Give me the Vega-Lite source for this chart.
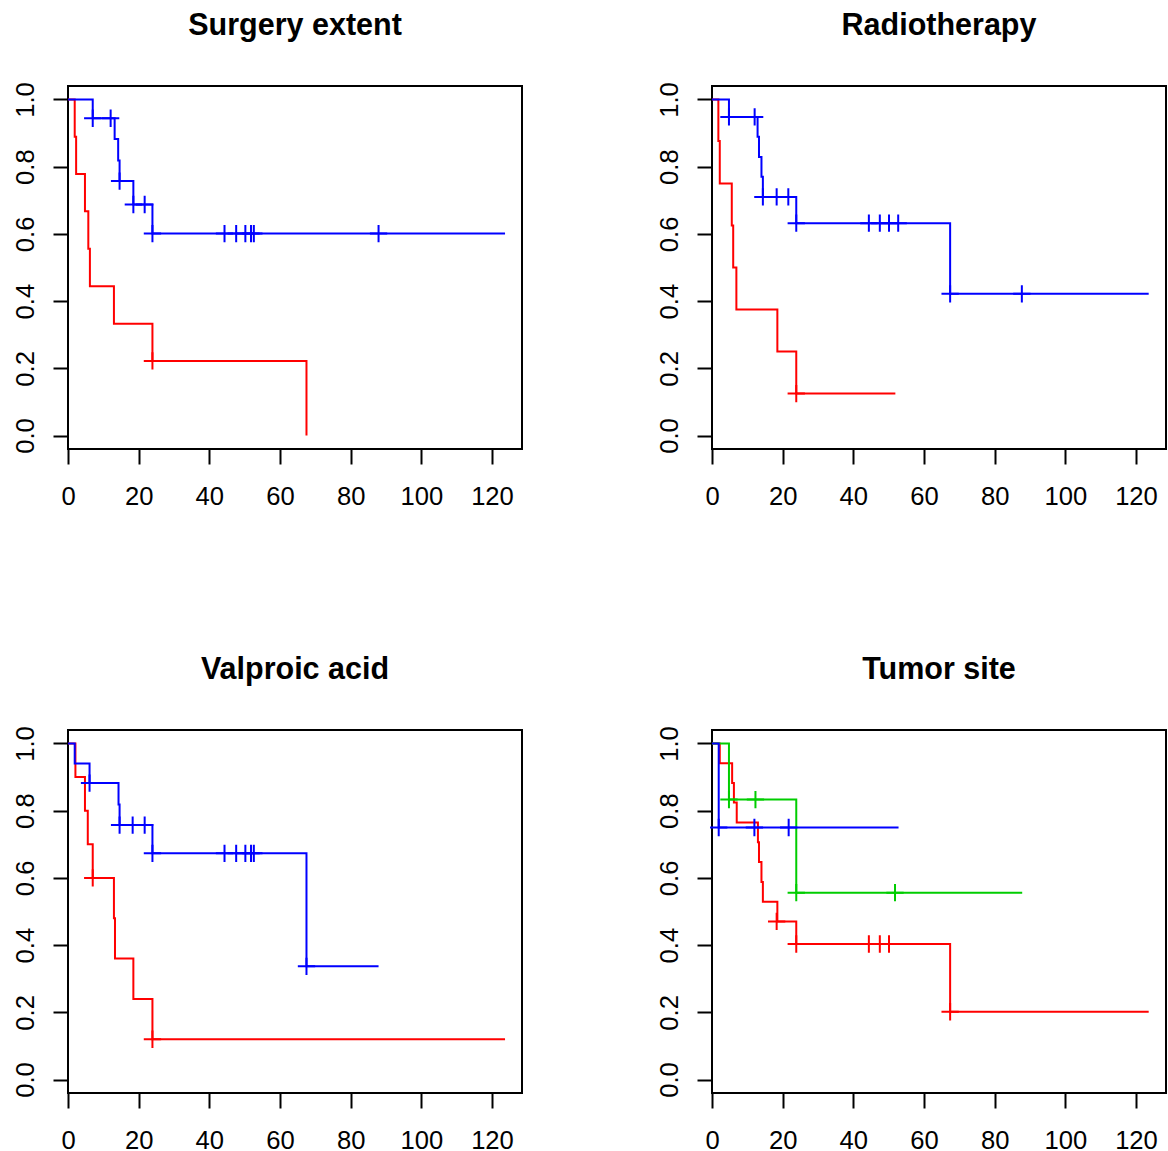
{
  "$schema": "https://vega.github.io/schema/vega-lite/v6.json",
  "background": "white",
  "padding": {"left": 12, "top": 10, "right": 2, "bottom": 2},
  "bounds": "flush",
  "columns": 2,
  "spacing": {"row": 281, "column": 190},
  "config": {
    "view": {"stroke": "black", "strokeWidth": 2},
    "font": "Liberation Sans",
    "axis": {
      "domain": false, "grid": false, "ticks": true, "tickSize": 15, "tickWidth": 2, "tickColor": "black",
      "labelFont": "Liberation Sans", "labelFontSize": 25.6, "labelColor": "black", "labelPadding": 20, "labelFlush": false, "labelOverlap": false, "title": null
    },
    "title": {"font": "Liberation Sans", "fontSize": 30.5, "fontWeight": "bold", "color": "black", "anchor": "middle", "frame": "group", "baseline": "alphabetic", "offset": 40}
  },
  "datasets": {
    "curves": [
      {"p": "Surgery extent", "g": "g1", "t": 0, "s": 1},
      {"p": "Surgery extent", "g": "g1", "t": 1.9, "s": 0.889},
      {"p": "Surgery extent", "g": "g1", "t": 2.3, "s": 0.778},
      {"p": "Surgery extent", "g": "g1", "t": 4.8, "s": 0.667},
      {"p": "Surgery extent", "g": "g1", "t": 5.75, "s": 0.556},
      {"p": "Surgery extent", "g": "g1", "t": 6.2, "s": 0.444},
      {"p": "Surgery extent", "g": "g1", "t": 13.0, "s": 0.333},
      {"p": "Surgery extent", "g": "g1", "t": 23.9, "s": 0.222},
      {"p": "Surgery extent", "g": "g1", "t": 67.5, "s": 0},
      {"p": "Surgery extent", "g": "g3", "t": 0, "s": 1},
      {"p": "Surgery extent", "g": "g3", "t": 7.0, "s": 0.944},
      {"p": "Surgery extent", "g": "g3", "t": 13.2, "s": 0.882},
      {"p": "Surgery extent", "g": "g3", "t": 14.2, "s": 0.818},
      {"p": "Surgery extent", "g": "g3", "t": 14.6, "s": 0.757},
      {"p": "Surgery extent", "g": "g3", "t": 18.5, "s": 0.6875},
      {"p": "Surgery extent", "g": "g3", "t": 23.9, "s": 0.601},
      {"p": "Surgery extent", "g": "g3", "t": 123.7, "s": 0.601},

      {"p": "Radiotherapy", "g": "g1", "t": 0, "s": 1},
      {"p": "Radiotherapy", "g": "g1", "t": 1.8, "s": 0.876},
      {"p": "Radiotherapy", "g": "g1", "t": 2.2, "s": 0.75},
      {"p": "Radiotherapy", "g": "g1", "t": 5.6, "s": 0.625},
      {"p": "Radiotherapy", "g": "g1", "t": 6.0, "s": 0.5},
      {"p": "Radiotherapy", "g": "g1", "t": 6.9, "s": 0.375},
      {"p": "Radiotherapy", "g": "g1", "t": 18.5, "s": 0.25},
      {"p": "Radiotherapy", "g": "g1", "t": 23.85, "s": 0.125},
      {"p": "Radiotherapy", "g": "g1", "t": 51.9, "s": 0.125},
      {"p": "Radiotherapy", "g": "g3", "t": 0, "s": 1},
      {"p": "Radiotherapy", "g": "g3", "t": 4.8, "s": 0.948},
      {"p": "Radiotherapy", "g": "g3", "t": 12.9, "s": 0.889},
      {"p": "Radiotherapy", "g": "g3", "t": 13.3, "s": 0.829},
      {"p": "Radiotherapy", "g": "g3", "t": 14.0, "s": 0.770},
      {"p": "Radiotherapy", "g": "g3", "t": 14.4, "s": 0.710},
      {"p": "Radiotherapy", "g": "g3", "t": 23.85, "s": 0.632},
      {"p": "Radiotherapy", "g": "g3", "t": 67.4, "s": 0.4216},
      {"p": "Radiotherapy", "g": "g3", "t": 123.6, "s": 0.4216},

      {"p": "Valproic acid", "g": "g1", "t": 0, "s": 1},
      {"p": "Valproic acid", "g": "g1", "t": 2.1, "s": 0.9},
      {"p": "Valproic acid", "g": "g1", "t": 4.8, "s": 0.8},
      {"p": "Valproic acid", "g": "g1", "t": 5.6, "s": 0.7},
      {"p": "Valproic acid", "g": "g1", "t": 7.0, "s": 0.6},
      {"p": "Valproic acid", "g": "g1", "t": 13.0, "s": 0.48},
      {"p": "Valproic acid", "g": "g1", "t": 13.3, "s": 0.36},
      {"p": "Valproic acid", "g": "g1", "t": 18.5, "s": 0.24},
      {"p": "Valproic acid", "g": "g1", "t": 23.9, "s": 0.12},
      {"p": "Valproic acid", "g": "g1", "t": 123.7, "s": 0.12},
      {"p": "Valproic acid", "g": "g3", "t": 0, "s": 1},
      {"p": "Valproic acid", "g": "g3", "t": 1.9, "s": 0.9405},
      {"p": "Valproic acid", "g": "g3", "t": 6.1, "s": 0.882},
      {"p": "Valproic acid", "g": "g3", "t": 14.3, "s": 0.818},
      {"p": "Valproic acid", "g": "g3", "t": 14.6, "s": 0.757},
      {"p": "Valproic acid", "g": "g3", "t": 23.9, "s": 0.673},
      {"p": "Valproic acid", "g": "g3", "t": 67.5, "s": 0.337},
      {"p": "Valproic acid", "g": "g3", "t": 87.9, "s": 0.337},

      {"p": "Tumor site", "g": "g1", "t": 0, "s": 1},
      {"p": "Tumor site", "g": "g1", "t": 2.2, "s": 0.941},
      {"p": "Tumor site", "g": "g1", "t": 5.7, "s": 0.882},
      {"p": "Tumor site", "g": "g1", "t": 6.2, "s": 0.824},
      {"p": "Tumor site", "g": "g1", "t": 7.0, "s": 0.765},
      {"p": "Tumor site", "g": "g1", "t": 13.0, "s": 0.706},
      {"p": "Tumor site", "g": "g1", "t": 13.3, "s": 0.647},
      {"p": "Tumor site", "g": "g1", "t": 14.0, "s": 0.588},
      {"p": "Tumor site", "g": "g1", "t": 14.4, "s": 0.529},
      {"p": "Tumor site", "g": "g1", "t": 18.5, "s": 0.4705},
      {"p": "Tumor site", "g": "g1", "t": 23.85, "s": 0.4033},
      {"p": "Tumor site", "g": "g1", "t": 67.4, "s": 0.2017},
      {"p": "Tumor site", "g": "g1", "t": 123.6, "s": 0.2017},
      {"p": "Tumor site", "g": "g2", "t": 0, "s": 1},
      {"p": "Tumor site", "g": "g2", "t": 4.8, "s": 0.833},
      {"p": "Tumor site", "g": "g2", "t": 23.85, "s": 0.556},
      {"p": "Tumor site", "g": "g2", "t": 87.8, "s": 0.556},
      {"p": "Tumor site", "g": "g3", "t": 0, "s": 1},
      {"p": "Tumor site", "g": "g3", "t": 1.9, "s": 0.75},
      {"p": "Tumor site", "g": "g3", "t": 52.8, "s": 0.75}
    ],
    "marks": [
      {"p": "Surgery extent", "g": "g1", "t": 23.9, "s": 0.222},
      {"p": "Surgery extent", "g": "g3", "t": 7.0, "s": 0.944},
      {"p": "Surgery extent", "g": "g3", "t": 12.07, "s": 0.944},
      {"p": "Surgery extent", "g": "g3", "t": 14.6, "s": 0.757},
      {"p": "Surgery extent", "g": "g3", "t": 18.5, "s": 0.6875},
      {"p": "Surgery extent", "g": "g3", "t": 21.7, "s": 0.6875},
      {"p": "Surgery extent", "g": "g3", "t": 23.9, "s": 0.601},
      {"p": "Surgery extent", "g": "g3", "t": 44.3, "s": 0.601},
      {"p": "Surgery extent", "g": "g3", "t": 47.6, "s": 0.601},
      {"p": "Surgery extent", "g": "g3", "t": 50.2, "s": 0.601},
      {"p": "Surgery extent", "g": "g3", "t": 51.8, "s": 0.601},
      {"p": "Surgery extent", "g": "g3", "t": 52.6, "s": 0.601},
      {"p": "Surgery extent", "g": "g3", "t": 87.9, "s": 0.601},

      {"p": "Radiotherapy", "g": "g1", "t": 23.85, "s": 0.125},
      {"p": "Radiotherapy", "g": "g3", "t": 4.8, "s": 0.948},
      {"p": "Radiotherapy", "g": "g3", "t": 12.07, "s": 0.948},
      {"p": "Radiotherapy", "g": "g3", "t": 14.4, "s": 0.710},
      {"p": "Radiotherapy", "g": "g3", "t": 18.3, "s": 0.710},
      {"p": "Radiotherapy", "g": "g3", "t": 21.6, "s": 0.710},
      {"p": "Radiotherapy", "g": "g3", "t": 23.85, "s": 0.632},
      {"p": "Radiotherapy", "g": "g3", "t": 44.4, "s": 0.632},
      {"p": "Radiotherapy", "g": "g3", "t": 47.5, "s": 0.632},
      {"p": "Radiotherapy", "g": "g3", "t": 50.1, "s": 0.632},
      {"p": "Radiotherapy", "g": "g3", "t": 52.7, "s": 0.632},
      {"p": "Radiotherapy", "g": "g3", "t": 67.4, "s": 0.4216},
      {"p": "Radiotherapy", "g": "g3", "t": 87.7, "s": 0.4216},

      {"p": "Valproic acid", "g": "g1", "t": 7.0, "s": 0.6},
      {"p": "Valproic acid", "g": "g1", "t": 23.9, "s": 0.12},
      {"p": "Valproic acid", "g": "g3", "t": 6.1, "s": 0.882},
      {"p": "Valproic acid", "g": "g3", "t": 14.6, "s": 0.757},
      {"p": "Valproic acid", "g": "g3", "t": 18.3, "s": 0.757},
      {"p": "Valproic acid", "g": "g3", "t": 21.7, "s": 0.757},
      {"p": "Valproic acid", "g": "g3", "t": 23.9, "s": 0.673},
      {"p": "Valproic acid", "g": "g3", "t": 44.3, "s": 0.673},
      {"p": "Valproic acid", "g": "g3", "t": 47.6, "s": 0.673},
      {"p": "Valproic acid", "g": "g3", "t": 50.2, "s": 0.673},
      {"p": "Valproic acid", "g": "g3", "t": 51.8, "s": 0.673},
      {"p": "Valproic acid", "g": "g3", "t": 52.6, "s": 0.673},
      {"p": "Valproic acid", "g": "g3", "t": 67.5, "s": 0.337},

      {"p": "Tumor site", "g": "g1", "t": 18.3, "s": 0.4705},
      {"p": "Tumor site", "g": "g1", "t": 23.85, "s": 0.4033},
      {"p": "Tumor site", "g": "g1", "t": 44.4, "s": 0.4033},
      {"p": "Tumor site", "g": "g1", "t": 47.5, "s": 0.4033},
      {"p": "Tumor site", "g": "g1", "t": 50.1, "s": 0.4033},
      {"p": "Tumor site", "g": "g1", "t": 67.4, "s": 0.2017},
      {"p": "Tumor site", "g": "g2", "t": 4.8, "s": 0.833},
      {"p": "Tumor site", "g": "g2", "t": 12.3, "s": 0.833},
      {"p": "Tumor site", "g": "g2", "t": 23.85, "s": 0.556},
      {"p": "Tumor site", "g": "g2", "t": 51.8, "s": 0.556},
      {"p": "Tumor site", "g": "g3", "t": 1.9, "s": 0.75},
      {"p": "Tumor site", "g": "g3", "t": 12.0, "s": 0.75},
      {"p": "Tumor site", "g": "g3", "t": 21.7, "s": 0.75}
    ]
  },
  "concat": [
    {
      "title": "Surgery extent", "width": 454, "height": 363,
      "layer": [
        {"data": {"name": "curves"}, "transform": [{"filter": "datum.p === 'Surgery extent'"}],
         "mark": {"type": "line", "interpolate": "step-after", "strokeWidth": 2},
         "encoding": {
           "x": {"field": "t", "type": "quantitative", "scale": {"domain": [0, 128.5], "nice": false, "zero": false}, "axis": {"values": [0, 20, 40, 60, 80, 100, 120]}},
           "y": {"field": "s", "type": "quantitative", "scale": {"domain": [-0.04, 1.04], "nice": false, "zero": false}, "axis": {"values": [0, 0.2, 0.4, 0.6, 0.8, 1.0], "format": ".1f", "labelAngle": -90, "labelAlign": "center", "labelBaseline": "alphabetic"}},
           "color": {"field": "g", "type": "nominal", "scale": {"domain": ["g1", "g2", "g3"], "range": ["#FF0000", "#00CD00", "#0000FF"]}, "legend": null}
         }},
        {"data": {"name": "marks"}, "transform": [{"filter": "datum.p === 'Surgery extent'"}],
         "mark": {"type": "point", "shape": "M-1,0L1,0M0,-1L0,1", "size": 300, "filled": false, "strokeWidth": 2, "opacity": 1},
         "encoding": {
           "x": {"field": "t", "type": "quantitative"},
           "y": {"field": "s", "type": "quantitative"},
           "color": {"field": "g", "type": "nominal", "scale": {"domain": ["g1", "g2", "g3"], "range": ["#FF0000", "#00CD00", "#0000FF"]}, "legend": null}
         }}
      ]
    },
    {
      "title": "Radiotherapy", "width": 454, "height": 363,
      "layer": [
        {"data": {"name": "curves"}, "transform": [{"filter": "datum.p === 'Radiotherapy'"}],
         "mark": {"type": "line", "interpolate": "step-after", "strokeWidth": 2},
         "encoding": {
           "x": {"field": "t", "type": "quantitative", "scale": {"domain": [0, 128.5], "nice": false, "zero": false}, "axis": {"values": [0, 20, 40, 60, 80, 100, 120]}},
           "y": {"field": "s", "type": "quantitative", "scale": {"domain": [-0.04, 1.04], "nice": false, "zero": false}, "axis": {"values": [0, 0.2, 0.4, 0.6, 0.8, 1.0], "format": ".1f", "labelAngle": -90, "labelAlign": "center", "labelBaseline": "alphabetic"}},
           "color": {"field": "g", "type": "nominal", "scale": {"domain": ["g1", "g2", "g3"], "range": ["#FF0000", "#00CD00", "#0000FF"]}, "legend": null}
         }},
        {"data": {"name": "marks"}, "transform": [{"filter": "datum.p === 'Radiotherapy'"}],
         "mark": {"type": "point", "shape": "M-1,0L1,0M0,-1L0,1", "size": 300, "filled": false, "strokeWidth": 2, "opacity": 1},
         "encoding": {
           "x": {"field": "t", "type": "quantitative"},
           "y": {"field": "s", "type": "quantitative"},
           "color": {"field": "g", "type": "nominal", "scale": {"domain": ["g1", "g2", "g3"], "range": ["#FF0000", "#00CD00", "#0000FF"]}, "legend": null}
         }}
      ]
    },
    {
      "title": "Valproic acid", "width": 454, "height": 363,
      "layer": [
        {"data": {"name": "curves"}, "transform": [{"filter": "datum.p === 'Valproic acid'"}],
         "mark": {"type": "line", "interpolate": "step-after", "strokeWidth": 2},
         "encoding": {
           "x": {"field": "t", "type": "quantitative", "scale": {"domain": [0, 128.5], "nice": false, "zero": false}, "axis": {"values": [0, 20, 40, 60, 80, 100, 120]}},
           "y": {"field": "s", "type": "quantitative", "scale": {"domain": [-0.04, 1.04], "nice": false, "zero": false}, "axis": {"values": [0, 0.2, 0.4, 0.6, 0.8, 1.0], "format": ".1f", "labelAngle": -90, "labelAlign": "center", "labelBaseline": "alphabetic"}},
           "color": {"field": "g", "type": "nominal", "scale": {"domain": ["g1", "g2", "g3"], "range": ["#FF0000", "#00CD00", "#0000FF"]}, "legend": null}
         }},
        {"data": {"name": "marks"}, "transform": [{"filter": "datum.p === 'Valproic acid'"}],
         "mark": {"type": "point", "shape": "M-1,0L1,0M0,-1L0,1", "size": 300, "filled": false, "strokeWidth": 2, "opacity": 1},
         "encoding": {
           "x": {"field": "t", "type": "quantitative"},
           "y": {"field": "s", "type": "quantitative"},
           "color": {"field": "g", "type": "nominal", "scale": {"domain": ["g1", "g2", "g3"], "range": ["#FF0000", "#00CD00", "#0000FF"]}, "legend": null}
         }}
      ]
    },
    {
      "title": "Tumor site", "width": 454, "height": 363,
      "layer": [
        {"data": {"name": "curves"}, "transform": [{"filter": "datum.p === 'Tumor site'"}],
         "mark": {"type": "line", "interpolate": "step-after", "strokeWidth": 2},
         "encoding": {
           "x": {"field": "t", "type": "quantitative", "scale": {"domain": [0, 128.5], "nice": false, "zero": false}, "axis": {"values": [0, 20, 40, 60, 80, 100, 120]}},
           "y": {"field": "s", "type": "quantitative", "scale": {"domain": [-0.04, 1.04], "nice": false, "zero": false}, "axis": {"values": [0, 0.2, 0.4, 0.6, 0.8, 1.0], "format": ".1f", "labelAngle": -90, "labelAlign": "center", "labelBaseline": "alphabetic"}},
           "color": {"field": "g", "type": "nominal", "scale": {"domain": ["g1", "g2", "g3"], "range": ["#FF0000", "#00CD00", "#0000FF"]}, "legend": null}
         }},
        {"data": {"name": "marks"}, "transform": [{"filter": "datum.p === 'Tumor site'"}],
         "mark": {"type": "point", "shape": "M-1,0L1,0M0,-1L0,1", "size": 300, "filled": false, "strokeWidth": 2, "opacity": 1},
         "encoding": {
           "x": {"field": "t", "type": "quantitative"},
           "y": {"field": "s", "type": "quantitative"},
           "color": {"field": "g", "type": "nominal", "scale": {"domain": ["g1", "g2", "g3"], "range": ["#FF0000", "#00CD00", "#0000FF"]}, "legend": null}
         }}
      ]
    }
  ]
}
